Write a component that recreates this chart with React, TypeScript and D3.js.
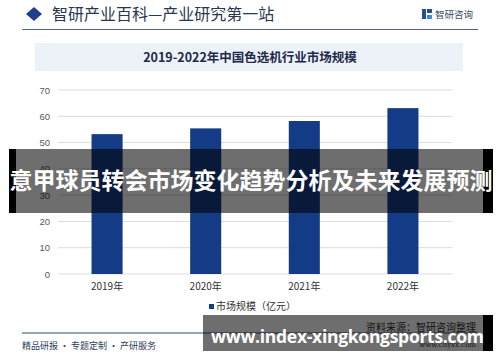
import React from "react";
import { scaleBand, scaleLinear } from "d3";

// chart data
const years = ["2019年", "2020年", "2021年", "2022年"];
const marketSize = [53.2, 55.4, 58.2, 63.1];
const yTicks = [0, 10, 20, 30, 40, 50, 60, 70];
const seriesName = "市场规模（亿元）";

const headerText = "智研产业百科—产业研究第一站";
const chartTitle = "2019-2022年中国色选机行业市场规模";
const bannerText = "意甲球员转会市场变化趋势分析及未来发展预测";
const siteText = "www.index-xingkongsports.com";

const W = 500;
const H = 362;
const CJK = "'Noto Sans CJK SC', 'Noto Sans', sans-serif";

export default function App() {
  const x = scaleBand().domain(years).range([58, 452]).paddingInner(0.685).paddingOuter(0.34);
  const y = scaleLinear().domain([0, 70]).range([274, 90]);
  const barColor = "#143b86";

  return (
    <svg
      width={W}
      height={H}
      style={{ position: "absolute", left: 0, top: 0, background: "#fff" }}
      fontFamily={CJK}
    >
      {/* header */}
      <path d="M26,14 L34,7 L42,14 L34,21 Z" fill="#1f3f8c" />
      <text x={52} y={20} fontSize={16} fill="#2b3650">{headerText}</text>
      <g transform="translate(422,9)">
        <rect x={0} y={0} width={4} height={10} fill="#2a4d8f" />
        <rect x={5} y={0} width={5} height={4} fill="#2a4d8f" />
        <rect x={5} y={6} width={5} height={4} fill="#3a8fd0" />
      </g>
      <text x={435} y={18} fontSize={9.5} fill="#3b4866">智研咨询</text>
      <line x1={22} x2={478} y1={29.5} y2={29.5} stroke="#55627f" strokeWidth={1.2} />

      {/* title box */}
      <rect x={35} y={43} width={428} height={28} fill="#edf1f8" />
      <text x={250} y={61.5} fontSize={12.5} fontWeight="bold" textAnchor="middle" fill="#1d2b4a">
        {chartTitle}
      </text>

      {/* grid + y axis */}
      {yTicks.map((t) => (
        <g key={t}>
          <line x1={58} x2={452} y1={y(t)} y2={y(t)} stroke="#dcdcdc" strokeWidth={1} />
          <text x={50} y={y(t) + 3.5} fontSize={9.5} textAnchor="end" fill="#595959" fontFamily="Arial, 'Liberation Sans', sans-serif">
            {t}
          </text>
        </g>
      ))}

      {/* bars */}
      {years.map((d, i) => (
        <rect
          key={d}
          x={x(d)}
          y={y(marketSize[i])}
          width={x.bandwidth()}
          height={y(0) - y(marketSize[i])}
          fill={barColor}
        />
      ))}

      {/* x labels */}
      {years.map((d) => (
        <text key={d} x={(x(d) as number) + x.bandwidth() / 2} y={290} fontSize={10} textAnchor="middle" fill="#333">
          {d}
        </text>
      ))}

      {/* legend */}
      <rect x={209} y={304} width={5} height={5} fill={barColor} />
      <text x={216} y={310} fontSize={10} fill="#333">{seriesName}</text>

      {/* footer */}
      <line x1={22} x2={478} y1={333} y2={333} stroke="#9aa4b5" strokeWidth={2} />
      <text x={22} y={349} fontSize={9} fill="#2c3d5e">精品研报 · 专题定制 · 产研服务</text>
      <text x={476} y={331} fontSize={10} textAnchor="end" fill="#333">资料来源：智研咨询整理</text>
      <text x={476} y={347} fontSize={7} textAnchor="end" fill="#333" fontFamily="'DejaVu Serif', serif">www.chyxx.com</text>

      {/* overlay banner */}
      <rect x={9} y={149} width={484} height={64} fill="rgba(0,0,0,0.57)" />
      <rect x={9} y={149} width={7} height={64} fill="#000" />
      <rect x={483} y={149} width={10} height={64} fill="#000" />
      <text x={251} y={189} fontSize={23} fontWeight="bold" textAnchor="middle" fill="#fff">
        {bannerText}
      </text>

      <rect x={203} y={315} width={290} height={36} fill="rgba(0,0,0,0.57)" />
      <rect x={483} y={315} width={10} height={36} fill="#000" />
      <text x={211} y={343} fontSize={17.5} fontWeight="bold" fill="#fff" fontFamily="'Open Sans', 'DejaVu Sans', sans-serif" textLength={273}>
        {siteText}
      </text>
    </svg>
  );
}
